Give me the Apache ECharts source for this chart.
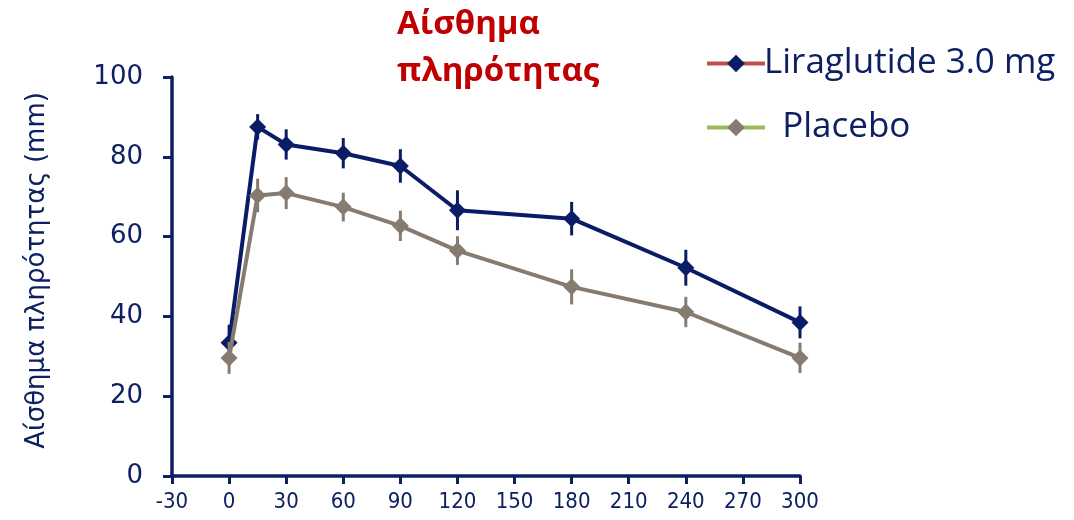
<!DOCTYPE html>
<html><head><meta charset="utf-8">
<script src="https://cdn.jsdelivr.net/npm/echarts@6/dist/echarts.min.js"></script>
<style>html,body{margin:0;padding:0;background:#fff}#c{width:1074px;height:520px}</style>
</head><body><div id="c"></div>
<script>
const times = [0, 15, 30, 60, 90, 120, 180, 240, 300];
const liraValues = [33.4, 87.5, 83.1, 80.9, 77.7, 66.6, 64.5, 52.2, 38.5];
const liraErrors = [4.5, 3.2, 3.8, 3.8, 4.2, 5.0, 4.2, 4.5, 4.0];
const placeboValues = [29.6, 70.3, 70.9, 67.4, 62.7, 56.5, 47.4, 41.1, 29.6];
const placeboErrors = [4.0, 4.2, 4.0, 3.6, 3.8, 3.6, 4.4, 3.8, 3.8];
const xTicks = [-30, 0, 30, 60, 90, 120, 150, 180, 210, 240, 270, 300];
const yTicks = [0, 20, 40, 60, 80, 100];

const navy = '#0b1c66';
const gray = '#857b71';
const axisColor = '#0d2162';

function pairs(vals){ return times.map((t,i)=>[t, vals[i]]); }
function errData(vals, errs){ return times.map((t,i)=>[t, vals[i]-errs[i], vals[i]+errs[i]]); }
function errSeries(name, vals, errs, color, z){
  return {
    type: 'custom', name: name + ' err', z: z, silent: true,
    data: errData(vals, errs),
    renderItem: function(params, api){
      const p1 = api.coord([api.value(0), api.value(1)]);
      const p2 = api.coord([api.value(0), api.value(2)]);
      return {type:'line', shape:{x1:p1[0], y1:p1[1], x2:p2[0], y2:p2[1]}, style:{stroke:color, lineWidth:3}};
    }
  };
}

const chart = echarts.init(document.getElementById('c'));
chart.setOption({
  animation: false,
  backgroundColor: '#fff',
  title: {
    text: 'Αίσθημα\nπληρότητας',
    left: 392, top: -4,
    textStyle: {color:'#c00000', fontSize: 33, fontWeight:'bold', fontFamily:'Open Sans', lineHeight: 47}
  },
  legend: {
    orient: 'vertical', left: 700, top: 41, itemGap: 29,
    itemWidth: 58, itemHeight: 22,
    textStyle: {color: axisColor, fontSize: 35, fontFamily: 'Open Sans', padding:[0,0,0,-6]},
    formatter: function(n){ return n === 'Placebo' ? '  Placebo' : n; },
    data: [
      {name:'Liraglutide 3.0 mg', itemStyle:{color:navy}, lineStyle:{color:'#c0504d', width:4}},
      {name:'Placebo', itemStyle:{color:gray}, lineStyle:{color:'#9bbb59', width:4}}
    ]
  },
  grid: {left: 172, right: 274, top: 77, bottom: 44, containLabel: false},
  xAxis: {
    type: 'value', min: -30, max: 300, interval: 30,
    axisLine: {show:true, onZero:false, lineStyle:{color:axisColor, width:3.5}},
    axisTick: {show:true, length:8, lineStyle:{color:axisColor, width:3}},
    axisLabel: {color: axisColor, fontSize: 22, fontFamily:'DejaVu Sans Condensed', margin: 15,
      formatter: function(v){ return xTicks.indexOf(v) >= 0 ? String(v) : ''; }},
    splitLine: {show:false}
  },
  yAxis: {
    type: 'value', min: 0, max: 100, interval: 20,
    name: 'Αίσθημα πληρότητας (mm)', nameLocation: 'middle', nameGap: 122,
    nameTextStyle: {color: axisColor, fontSize: 26, fontFamily:'DejaVu Sans', padding:[0,0,0,12]},
    axisLine: {show:true, onZero:false, lineStyle:{color:axisColor, width:3.5}},
    axisTick: {show:true, length:9, lineStyle:{color:axisColor, width:3}},
    axisLabel: {color: axisColor, fontSize: 26, fontFamily:'DejaVu Sans', margin: 29,
      formatter: function(v){ return yTicks.indexOf(v) >= 0 ? String(v) : ''; }},
    splitLine: {show:false}
  },
  series: [
    errSeries('Liraglutide 3.0 mg', liraValues, liraErrors, navy, 2),
    {type:'line', name:'Liraglutide 3.0 mg', data: pairs(liraValues), z:3,
      symbol:'diamond', symbolSize:17, lineStyle:{color:navy, width:4}, itemStyle:{color:navy}},
    errSeries('Placebo', placeboValues, placeboErrors, gray, 4),
    {type:'line', name:'Placebo', data: pairs(placeboValues), z:5,
      symbol:'diamond', symbolSize:17, lineStyle:{color:gray, width:4}, itemStyle:{color:gray}}
  ]
});
</script></body></html>
